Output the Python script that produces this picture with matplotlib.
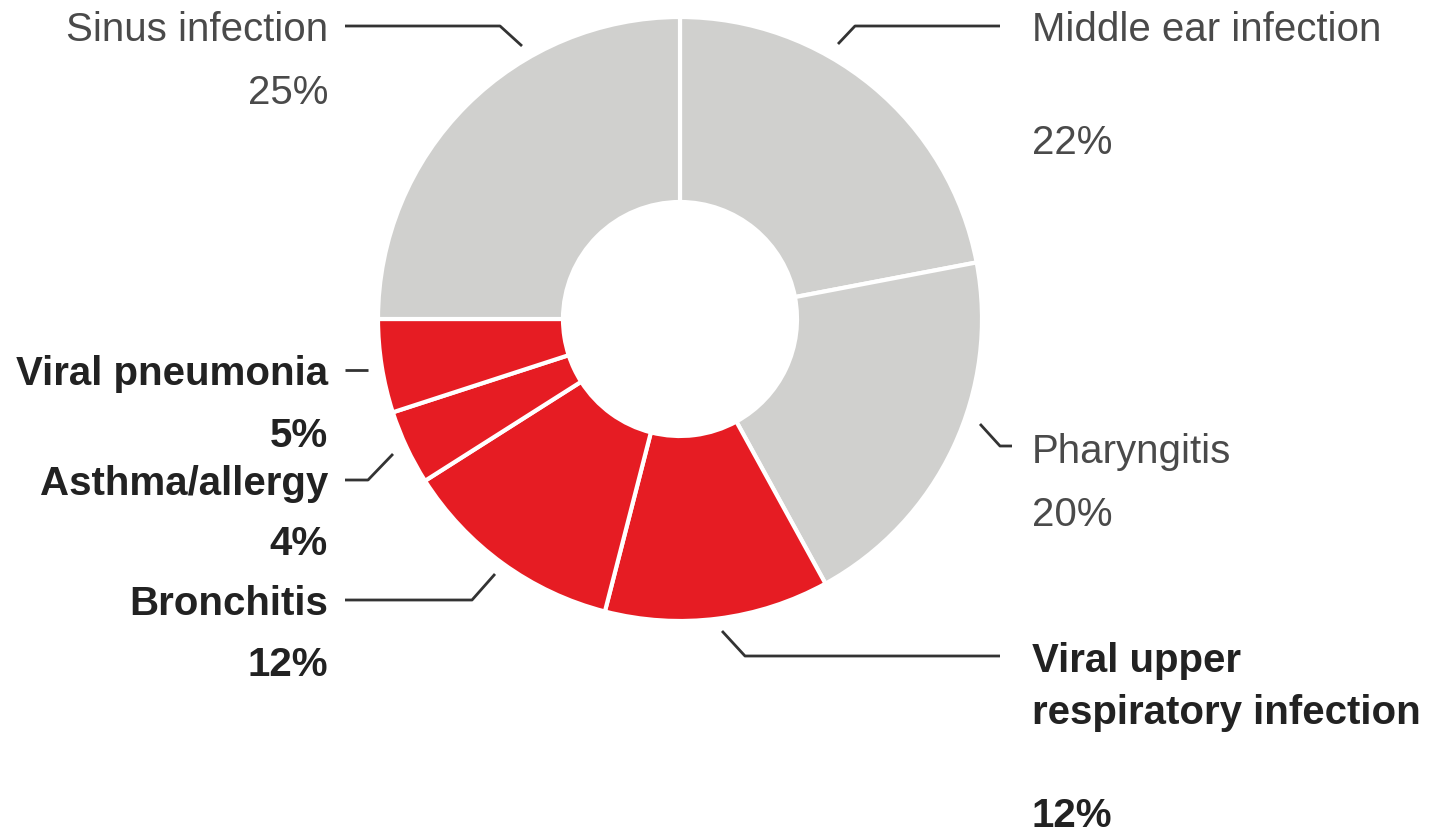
import matplotlib
matplotlib.use("Agg")
import matplotlib.pyplot as plt

# Share of visits by diagnosis, clockwise from 12 o'clock
categories = ["Middle ear infection", "Pharyngitis", "Viral upper\nrespiratory infection",
              "Bronchitis", "Asthma/allergy", "Viral pneumonia", "Sinus infection"]
shares = [22, 20, 12, 12, 4, 5, 25]
highlight = [False, False, True, True, True, True, False]

GREY = "#d0d0ce"
RED = "#e61c23"
W, H = 1441, 837
CX, CY = 680, 320          # donut centre in pixels (y measured from top)
R_OUT, R_IN = 302, 117


def fy(py):
    return H - py


plt.rcParams["font.family"] = ["Liberation Sans", "DejaVu Sans"]

fig = plt.figure(figsize=(W / 100, H / 100), dpi=100)
ax = fig.add_axes([0, 0, 1, 1])

colors = [RED if h else GREY for h in highlight]
ax.pie(shares, colors=colors, startangle=90, counterclock=False,
       center=(CX, fy(CY)), radius=R_OUT, frame=True,
       wedgeprops=dict(width=R_OUT - R_IN, edgecolor="white", linewidth=3))
ax.set_xlim(0, W)
ax.set_ylim(0, H)
ax.set_aspect("equal")
ax.axis("off")

# label layout: (text x, name y, pct y, align, leader polyline)
layout = {
    "Middle ear infection": (1032, 30, 143, "left",
                             [(838, 45), (855, 27), (1000, 27)]),
    "Pharyngitis": (1032, 452, 515, "left",
                    [(980, 425), (1000, 447), (1012, 447)]),
    "Viral upper\nrespiratory infection": (1032, 687, 816, "left",
                                           [(722, 632), (745, 657), (1000, 657)]),
    "Bronchitis": (328, 604, 665, "right",
                   [(495, 575), (472, 601), (345, 601)]),
    "Asthma/allergy": (328, 484, 544, "right",
                       [(393, 455), (368, 481), (345, 481)]),
    "Viral pneumonia": (328, 374, 436, "right",
                        [(368, 371), (345, 371)]),
    "Sinus infection": (328, 30, 93, "right",
                        [(522, 47), (500, 27), (345, 27)]),
}

for name, val, hl in zip(categories, shares, highlight):
    tx, ny, py, ha, path = layout[name]
    weight = "bold" if hl else "normal"
    color = "#222222" if hl else "#4a4a4a"
    ax.text(tx, fy(ny), name, ha=ha, va="center", fontsize=29,
            fontweight=weight, color=color, linespacing=1.45)
    ax.text(tx, fy(py), f"{val}%", ha=ha, va="center", fontsize=29,
            fontweight=weight, color=color)
    xs = [p[0] for p in path]
    ys = [fy(p[1]) for p in path]
    ax.plot(xs, ys, color="#333333", lw=2, solid_capstyle="butt")

fig.savefig("out.png", dpi=100, facecolor="white")
